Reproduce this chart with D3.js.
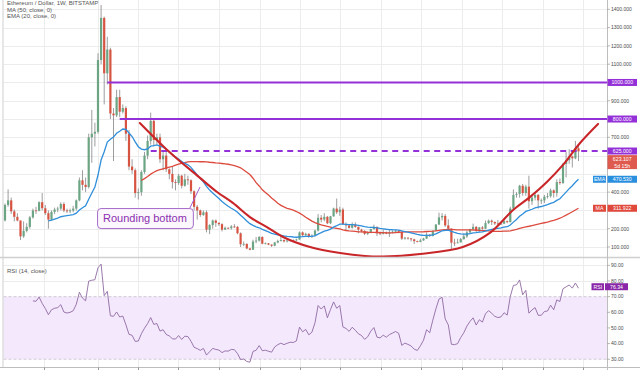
<!DOCTYPE html>
<html><head><meta charset="utf-8">
<script src="https://cdn.jsdelivr.net/npm/d3@7"></script>
<style>body{margin:0;background:#fff;}svg{display:block;font-family:"Liberation Sans",Arial,sans-serif;}</style>
</head><body><svg id="c" width="640" height="370"></svg>
<script>
// ---- data (weekly ETH/USD, first week starting 2017-05-01) ----
const firstWeek = "2017-05-01";
const open = [79,90,88,158,172,245,330,355,295,265,
245,158,188,210,262,300,298,345,312,285,
250,292,305,310,335,300,295,300,310,355,
465,440,428,700,720,730,1123,1353,1050,1180,
830,820,920,840,860,720,540,520,395,400,
510,600,680,790,685,700,580,600,525,500,
455,450,490,435,470,465,405,320,300,275,
290,195,220,245,232,225,195,205,203,212,
210,175,115,117,92,85,130,135,155,118,
120,113,107,125,133,138,131,135,138,137,
141,180,165,172,155,162,190,260,250,265,
230,268,310,290,305,225,218,205,222,210,
195,188,172,180,198,210,175,172,180,173,
180,184,188,183,146,151,147,142,132,128,
136,146,167,160,189,223,262,270,218,200,
124,122,125,143,158,180,197,210,188,207,
200,231,244,237,229,226,228,241,236,310,
385,390,435,395,430,350,370,385,355,355,
375,378,410,395,455,450,555,575,595,585,
640];
const high = [97,92,160,230,250,338,415,370,305,285,
245,240,230,270,310,320,350,395,330,300,
300,315,320,345,345,310,310,325,360,480,
520,480,720,850,780,1160,1424,1360,1250,1190,
860,960,960,880,870,740,580,530,420,520,
620,710,835,800,720,720,630,620,530,540,
470,500,495,500,490,470,410,330,305,300,
300,225,250,250,235,230,212,207,220,225,
215,180,130,120,95,140,155,160,158,125,
122,115,127,140,165,142,140,140,142,145,
185,185,178,175,170,195,280,275,285,270,
270,315,365,320,315,235,225,235,235,212,
200,192,185,200,222,212,185,195,185,195,
190,195,190,185,155,152,150,145,135,145,
150,180,170,190,225,288,285,280,252,202,
145,145,150,175,190,200,228,215,210,215,
245,250,250,240,248,230,250,245,320,415,
400,440,445,440,490,380,395,390,365,385,
395,420,415,470,475,560,620,635,600,680,
660];
const low = [76,82,86,150,168,240,320,280,240,240,
138,150,180,200,255,280,295,300,275,200,
245,280,290,300,290,285,285,290,300,350,
410,400,420,560,650,720,1100,880,990,800,
570,810,810,830,680,520,500,370,360,380,
500,580,660,650,660,560,520,510,470,420,
410,440,420,430,440,390,300,250,265,270,
180,170,200,210,215,185,195,198,195,205,
170,100,105,88,82,84,120,130,115,115,
110,100,104,120,130,125,125,130,132,133,
140,155,160,150,150,160,185,235,240,225,
225,265,280,270,220,190,200,200,205,175,
180,165,165,175,195,160,165,168,170,155,
175,180,175,138,140,140,130,116,125,126,
134,144,155,158,187,220,245,210,198,90,
105,120,125,140,150,170,195,180,180,195,
198,225,220,220,220,220,225,230,235,305,
370,370,380,380,310,330,355,310,335,340,
365,370,370,375,440,445,480,555,535,580,
570];
const close = [90,88,158,172,245,330,355,295,265,245,
158,188,210,262,300,298,345,312,285,250,
292,305,310,335,300,295,300,310,355,465,
440,428,700,720,730,1123,1353,1050,1180,830,
820,920,840,860,720,540,520,395,400,510,
600,680,790,685,700,580,600,525,500,455,
450,490,435,470,465,405,320,300,275,290,
195,220,245,232,225,195,205,203,212,210,
175,115,117,92,85,130,135,155,118,120,
113,107,125,133,138,131,135,138,137,141,
180,165,172,155,162,190,260,250,265,230,
268,310,290,305,225,218,205,222,210,195,
188,172,180,198,210,175,172,180,173,180,
184,188,183,146,151,147,142,132,128,136,
146,167,160,189,223,262,270,218,200,124,
122,125,143,158,180,197,210,188,207,200,
231,244,237,229,226,228,241,236,310,385,
390,435,395,430,350,370,385,355,355,375,
378,410,395,455,450,555,575,595,585,640,
623];
const priceTicks = [100,200,300,400,500,600,700,800,900,1000,1100,1200,1300,1400];
const rsiTicks = [30,40,50,60,70,80,90];
const gridDates = ["2017-09-01","2018-01-01","2018-04-01","2018-07-01","2018-10-01","2019-01-01","2019-04-01","2019-07-01","2019-10-01","2020-01-01","2020-04-01","2020-07-01","2020-10-01","2021-01-01"];
const solidLevels = [1000, 800];
const solidLevelStart = ["2018-01-22", "2018-02-19"];
const dashedLevel = 625;
const dashedLevelStart = "2018-04-30";
const lastPrice = "623.107", countdown = "5d 15h";
const lastEMA = 470.530, lastMA = 311.922, lastRSI = 76.34;
// rounding-bottom annotation: [week index, price]
const roundCurve = [[48.5,778],[57.3,631],[67.9,478],[73.4,401],[78.5,341],[84,264],[89.5,209],[94.7,155],[103.4,100],[113.1,67],[121.1,51],[127,48],[138.9,62],[152.7,100],[161.4,177],[168.9,302],[174.4,374],[179.8,456],[185,549],[190.5,669],[196.3,773]];
const calloutBox = [34.7, 313];   // top-left of label box
const calloutTip = [67.9, 428];
const labelText = "Rounding bottom";

// ---- scales ----
const parse = d3.utcParse("%Y-%m-%d");
const t0 = parse(firstWeek);
const dates = open.map((_, i) => d3.utcDay.offset(t0, 7 * i));
const weekDate = w => new Date(t0.getTime() + w * 7 * 864e5);
const n = open.length;
const x = d3.scaleUtc().domain([dates[0], dates[n - 1]]).range([-10.5, 578.5]);
const y = d3.scaleLinear().domain([45.3, 1451]).range([257, 0]);
const yr = d3.scaleLinear().domain([24.4, 94.7]).range([368, 258]);
const PL = 3.5, PR = 607.5;

// ---- indicators ----
function sma(a, p) { return a.map((_, i) => i < p - 1 ? null : d3.mean(a.slice(i - p + 1, i + 1))); }
function ema(a, p) { const k = 2 / (p + 1); let prev = null; return a.map((v, i) => { if (i < p - 1) return null; if (i === p - 1) { prev = d3.mean(a.slice(0, p)); return prev; } prev = v * k + prev * (1 - k); return prev; }); }
function rsi(a, p) { const out = a.map(() => null); let g = 0, l = 0; for (let i = 1; i <= p; i++) { const c = a[i] - a[i - 1]; if (c > 0) g += c; else l -= c; } g /= p; l /= p; out[p] = 100 - 100 / (1 + g / l); for (let i = p + 1; i < a.length; i++) { const c = a[i] - a[i - 1]; g = (g * (p - 1) + Math.max(c, 0)) / p; l = (l * (p - 1) + Math.max(-c, 0)) / p; out[i] = l === 0 ? 100 : 100 - 100 / (1 + g / l); } return out; }
const ma50 = sma(close, 50), ema20 = ema(close, 20), rsi14 = rsi(close, 14);

const svg = d3.select("#c");
svg.append("rect").attr("width", 640).attr("height", 370).attr("fill", "#fff");
const defs = svg.append("defs");
defs.append("clipPath").attr("id", "cm").append("rect").attr("x", PL).attr("y", 0).attr("width", PR - PL).attr("height", 257);
defs.append("clipPath").attr("id", "cr").append("rect").attr("x", PL).attr("y", 258).attr("width", PR - PL).attr("height", 110);

// grid
const grid = svg.append("g").attr("stroke", "#ececec").attr("stroke-width", 1);
gridDates.forEach(d => { const gx = Math.round(x(parse(d))) + 0.5; grid.append("line").attr("x1", gx).attr("x2", gx).attr("y1", 0).attr("y2", 367); });
priceTicks.forEach(v => { const gy = Math.round(y(v)) + 0.5; grid.append("line").attr("x1", PL).attr("x2", PR).attr("y1", gy).attr("y2", gy); });
[90, 80, 60, 50, 40].forEach(v => { const gy = Math.round(yr(v)) + 0.5; grid.append("line").attr("x1", PL).attr("x2", PR).attr("y1", gy).attr("y2", gy); });

// RSI band
svg.append("rect").attr("x", PL).attr("width", PR - PL).attr("y", yr(70)).attr("height", yr(30) - yr(70)).attr("fill", "#f4e8fc");
[70, 30].forEach(v => svg.append("line").attr("x1", PL).attr("x2", PR).attr("y1", yr(v)).attr("y2", yr(v)).attr("stroke", "#c8c0cc").attr("stroke-dasharray", "3,2").attr("stroke-width", 0.8));

// main panel
const gm = svg.append("g").attr("clip-path", "url(#cm)");
const up = "#6ba583", dn = "#d75442";
const cg = gm.append("g");
d3.range(n).forEach(i => {
  const cx = x(dates[i]); const isUp = close[i] >= open[i];
  cg.append("line").attr("x1", cx).attr("x2", cx).attr("y1", y(high[i])).attr("y2", y(low[i])).attr("stroke", "#737375").attr("stroke-width", 0.7);
  const yt = y(Math.max(open[i], close[i])), yb = y(Math.min(open[i], close[i]));
  cg.append("rect").attr("x", cx - 1.1).attr("width", 2.2).attr("y", yt).attr("height", Math.max(0.8, yb - yt)).attr("fill", isUp ? up : dn);
});
const ln = arr => d3.line().defined(d => d != null).x((d, i) => x(dates[i])).y(d => y(d))(arr);
gm.append("path").attr("d", ln(ma50)).attr("fill", "none").attr("stroke", "#dc4b3e").attr("stroke-width", 1.3);
gm.append("path").attr("d", ln(ema20)).attr("fill", "none").attr("stroke", "#2f8fdb").attr("stroke-width", 1.3);
const purple = "#9430d8";
solidLevels.forEach((v, k) => gm.append("line").attr("x1", x(parse(solidLevelStart[k]))).attr("x2", PR).attr("y1", y(v)).attr("y2", y(v)).attr("stroke", purple).attr("stroke-width", 2));
gm.append("line").attr("x1", x(parse(dashedLevelStart))).attr("x2", PR).attr("y1", y(dashedLevel)).attr("y2", y(dashedLevel)).attr("stroke", purple).attr("stroke-width", 2).attr("stroke-dasharray", "6,4.5");
gm.append("path").attr("d", d3.line().curve(d3.curveCatmullRom.alpha(0.5)).x(d => x(weekDate(d[0]))).y(d => y(d[1]))(roundCurve)).attr("fill", "none").attr("stroke", "#c9262a").attr("stroke-width", 2.1).attr("stroke-linecap", "round");
// callout
const bx = x(weekDate(calloutBox[0])), by = y(calloutBox[1]);
const lbl = svg.append("g");
const txt = lbl.append("text").attr("x", bx + 6).attr("y", by + 14.3).attr("font-size", 11).attr("fill", "#8c2fb0").text(labelText);
const tw = txt.node().getComputedTextLength();
const bw = tw + 12, bh = 20;
svg.append("line").attr("x1", bx + bw - 3).attr("y1", by).attr("x2", x(weekDate(calloutTip[0]))).attr("y2", y(calloutTip[1])).attr("stroke", "#a25bd0").attr("stroke-width", 1);
lbl.insert("rect", "text").attr("x", bx + 0.5).attr("y", by + 0.5).attr("width", bw).attr("height", bh).attr("rx", 3.5).attr("fill", "#fbf7fd").attr("stroke", "#a56bc9").attr("stroke-width", 1);
lbl.raise();

// RSI
const gr = svg.append("g").attr("clip-path", "url(#cr)");
gr.append("path").attr("d", d3.line().defined(d => d != null).x((d, i) => x(dates[i])).y(d => yr(d))(rsi14)).attr("fill", "none").attr("stroke", "#8e6aa3").attr("stroke-width", 0.9);

// frame / separators
svg.append("line").attr("x1", 3).attr("x2", 3).attr("y1", 0).attr("y2", 368).attr("stroke", "#cfcfcf");
svg.append("line").attr("x1", 0).attr("x2", 640).attr("y1", 257.5).attr("y2", 257.5).attr("stroke", "#cfcfcf").attr("stroke-width", 1.5);
svg.append("line").attr("x1", 0).attr("x2", 640).attr("y1", 367.5).attr("y2", 367.5).attr("stroke", "#bdbdbd");
svg.append("line").attr("x1", PR).attr("x2", PR).attr("y1", 0).attr("y2", 370).attr("stroke", "#bdbdbd");
gridDates.forEach(d => { const gx = Math.round(x(parse(d))) + 0.5; svg.append("line").attr("x1", gx).attr("x2", gx).attr("y1", 367.5).attr("y2", 370).attr("stroke", "#999"); });

// axis labels
const boxes = [dashedLevel, 1000, 800, 610, lastEMA, lastMA].map(v => y(v));
const ax = svg.append("g").attr("font-size", 5).attr("fill", "#4a4a4a");
priceTicks.forEach(v => {
  const ty = y(v); if (boxes.some(b => Math.abs(b - ty) < 6)) return;
  ax.append("line").attr("x1", PR).attr("x2", PR + 2.5).attr("y1", ty).attr("y2", ty).attr("stroke", "#888").attr("stroke-width", 0.6);
  ax.append("text").attr("x", 611).attr("y", ty + 1.8).text(d3.format(".3f")(v));
});
rsiTicks.forEach(v => {
  const ty = yr(v); if (Math.abs(yr(lastRSI) - ty) < 5) return;
  ax.append("line").attr("x1", PR).attr("x2", PR + 2.5).attr("y1", ty).attr("y2", ty).attr("stroke", "#888").attr("stroke-width", 0.6);
  ax.append("text").attr("x", 611).attr("y", ty + 1.8).text(d3.format(".2f")(v));
});

function tag(x0, w, cy, h, color, lines) {
  svg.append("rect").attr("x", x0).attr("y", cy - h / 2).attr("width", w).attr("height", h).attr("fill", color);
  lines.forEach((t, k) => svg.append("text").attr("x", x0 + w / 2).attr("y", cy - h / 2 + 5.4 + k * 7).attr("text-anchor", "middle").attr("font-size", 5.2).attr("fill", "#fff").text(t));
}
tag(PR, 29.5, y(1000), 7, purple, ["1000.000"]);
tag(PR, 29.5, y(800), 7, purple, ["800.000"]);
tag(PR, 29.5, y(dashedLevel), 7, purple, ["625.000"]);
tag(PR, 29.5, y(dashedLevel) + 3.5 + 0.6 + 7, 14, "#df5a4e", [lastPrice, countdown]);
tag(PR, 29.5, y(lastEMA), 7, "#2b8fe0", [d3.format(".3f")(lastEMA)]);
tag(593, 13, y(lastEMA), 7, "#2b8fe0", ["EMA"]);
tag(PR, 29.5, y(lastMA), 7, "#e0483c", [d3.format(".3f")(lastMA)]);
tag(593, 13, y(lastMA), 7, "#e0483c", ["MA"]);
tag(605, 23, yr(lastRSI), 7, "#8a27a8", [d3.format(".2f")(lastRSI)]);
tag(591.5, 12.5, yr(lastRSI), 7, "#8a27a8", ["RSI"]);

// legends
const lg = svg.append("g").attr("font-size", 6).attr("fill", "#555");
lg.append("text").attr("x", 7).attr("y", 5.2).attr("font-size", 6).text("Ethereum / Dollar, 1W, BITSTAMP");
lg.append("text").attr("x", 7).attr("y", 11.6).text("MA (50, close, 0)");
lg.append("text").attr("x", 7).attr("y", 18.4).text("EMA (20, close, 0)");
lg.append("text").attr("x", 7).attr("y", 273).text("RSI (14, close)");
</script></body></html>
